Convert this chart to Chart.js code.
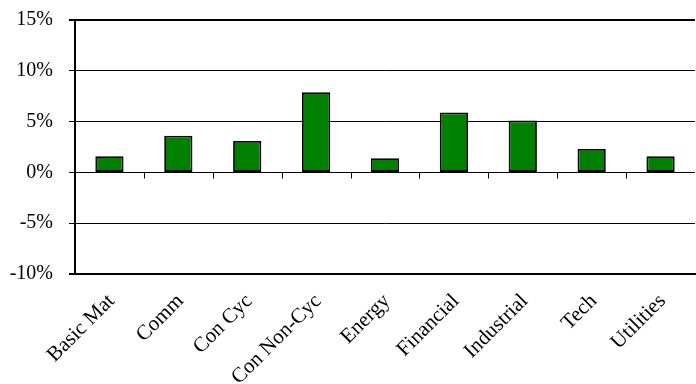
<!DOCTYPE html>
<html>
<head>
<meta charset="utf-8">
<script src="https://cdn.jsdelivr.net/npm/chart.js@4/dist/chart.umd.min.js"></script>
<style>
  html, body { margin: 0; padding: 0; background: #fff; }
  #wrap { width: 696px; height: 384px; }
</style>
</head>
<body>
<div id="wrap"><canvas id="sectorChart"></canvas></div>
<script>
    // sector returns (percent)
    const sectors = ['Basic Mat', 'Comm', 'Con Cyc', 'Con Non-Cyc', 'Energy', 'Financial', 'Industrial', 'Tech', 'Utilities'];
    const returns = [1.6, 3.6, 3.1, 7.9, 1.4, 5.9, 5.1, 2.3, 1.6];
    const yTicks = [-10, -5, 0, 5, 10, 15];

    const SERIF = "'Liberation Serif', 'Times New Roman', serif";

    // little tick marks under the zero line, between categories
    const zeroTicks = {
        id: 'zeroTicks',
        afterDatasetsDraw(chart) {
            const x = chart.scales.x, y = chart.scales.y;
            const ctx = chart.ctx;
            const y0 = Math.round(y.getPixelForValue(0)) + 0.5;
            ctx.save();
            ctx.strokeStyle = '#000';
            ctx.lineWidth = 1;
            ctx.beginPath();
            for (let i = 0; i < sectors.length - 1; i++) {
                const px = Math.round((x.getPixelForValue(i) + x.getPixelForValue(i + 1)) / 2) + 0.5;
                ctx.moveTo(px, y0);
                ctx.lineTo(px, y0 + 6);
            }
            ctx.stroke();
            ctx.restore();
        }
    };

    new Chart(document.getElementById('sectorChart'), {
        type: 'bar',
        data: {
            labels: sectors,
            datasets: [{
                data: returns,
                backgroundColor: '#008000',
                borderColor: '#000',
                borderWidth: 1.8,
                borderSkipped: false,
                barPercentage: 0.41,
                categoryPercentage: 1
            }]
        },
        options: {
            responsive: true,
            maintainAspectRatio: false,
            animation: false,
            layout: { padding: { top: 20, right: 1, left: 0, bottom: 0 } },
            plugins: {
                legend: { display: false },
                tooltip: { enabled: false }
            },
            scales: {
                x: {
                    grid: { display: false, drawTicks: false },
                    border: { display: true, color: '#000', width: 2 },
                    ticks: {
                        color: '#000',
                        font: { family: SERIF, size: 21 },
                        maxRotation: 45,
                        minRotation: 45,
                        padding: 15,
                        labelOffset: 2,
                        autoSkip: false
                    },
                    afterFit(scale) {
                        scale.height = 110;
                        scale.paddingLeft = 0;
                        scale.paddingRight = 0;
                    }
                },
                y: {
                    min: -10,
                    max: 15,
                    afterBuildTicks(scale) {
                        scale.ticks = yTicks.map(v => ({ value: v }));
                    },
                    grid: {
                        color: '#000',
                        lineWidth: ctx => (ctx.tick && (ctx.tick.value === 15 || ctx.tick.value === -10)) ? 2 : 1,
                        tickLength: 6
                    },
                    border: { display: true, color: '#000', width: 2 },
                    ticks: {
                        color: '#000',
                        font: { family: SERIF, size: 20 },
                        padding: 16,
                        callback: v => v + '%'
                    },
                    afterFit(scale) {
                        scale.width = 75;
                        scale.paddingTop = 0;
                        scale.paddingBottom = 0;
                    }
                }
            }
        },
        plugins: [zeroTicks]
    });
</script>
</body>
</html>
